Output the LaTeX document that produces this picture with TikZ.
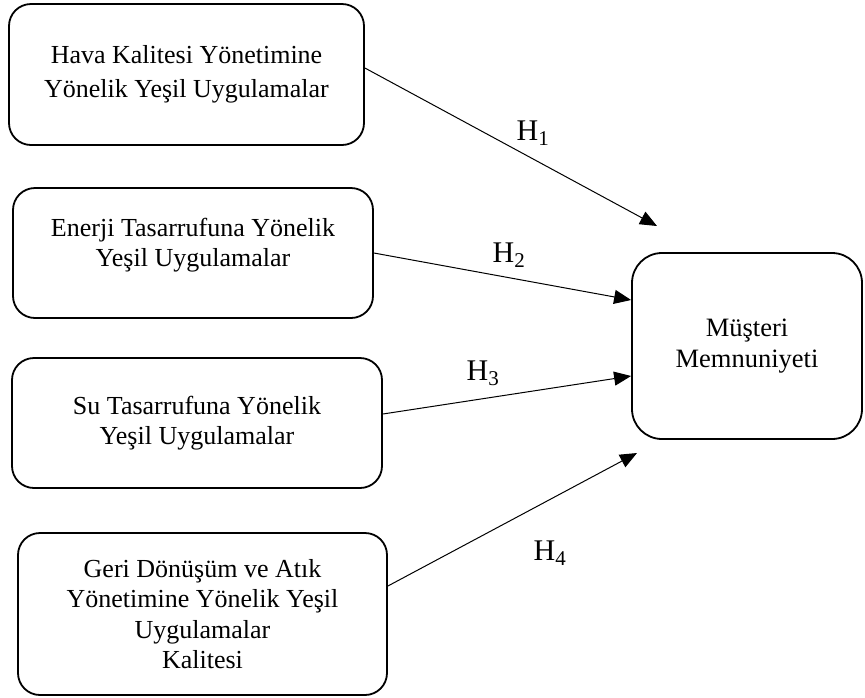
\documentclass[tikz,border=0pt]{standalone}
\usepackage{fontspec}
\setmainfont{Liberation Serif}
\usetikzlibrary{arrows.meta,calc}
\begin{document}
\begin{tikzpicture}[x=1pt,y=-1pt,
 box/.style={draw,line width=1.8pt,rounded corners=22pt,inner sep=0pt,align=center,font=\fontsize{26}{30.5}\selectfont},
 txt/.style={inner sep=0pt,align=center,font=\fontsize{26}{30.5}\selectfont},
 link/.style={line width=1pt,-{Triangle[length=17pt,width=14pt]}},
 hyp/.style={font=\fontsize{30}{36}\selectfont,inner sep=0pt}]
\useasboundingbox (0,0) rectangle (865,697);
\node[box,minimum width=355pt,minimum height=141pt] (b1) at (186.5,74.5)
  {Hava Kalitesi Yönetimine\\[4pt]Yönelik Yeşil Uygulamalar};
\node[box,minimum width=360pt,minimum height=130pt] (b2) at (193,253) {};
\node[txt] (t2) at (193,245) {Enerji Tasarrufuna Yönelik\\Yeşil Uygulamalar};
\node[box,minimum width=370pt,minimum height=130pt] (b3) at (197,423)
  {Su Tasarrufuna Yönelik\\Yeşil Uygulamalar};
\node[box,minimum width=369pt,minimum height=162pt] (b4) at (202.5,614)
  {Geri Dönüşüm ve Atık\\Yönetimine Yönelik Yeşil\\Uygulamalar\\Kalitesi};
\node[box,rounded corners=30pt,minimum width=230pt,minimum height=186pt,
  font=\fontsize{26.5}{31}\selectfont] (m) at (747,346) {Müşteri\\Memnuniyeti};
\coordinate (e1) at (657,226);
\coordinate (e4) at (637,453);
\draw[link] ([yshift=6.5pt]b1.east) -- (e1);
\draw[link] (b2.east) -- ([yshift=46pt]m.west);
\draw[link] ([yshift=9pt]b3.east) -- ([yshift=-30pt]m.west);
\draw[link] ([yshift=28pt]b4.east) -- (e4);
\node[hyp] (h1) at (533,133) {H\textsubscript{1}};
\node[hyp] (h2) at (509,255) {H\textsubscript{2}};
\node[hyp] (h3) at (483,373) {H\textsubscript{3}};
\node[hyp] (h4) at (550,553) {H\textsubscript{4}};
\end{tikzpicture}
\end{document}
